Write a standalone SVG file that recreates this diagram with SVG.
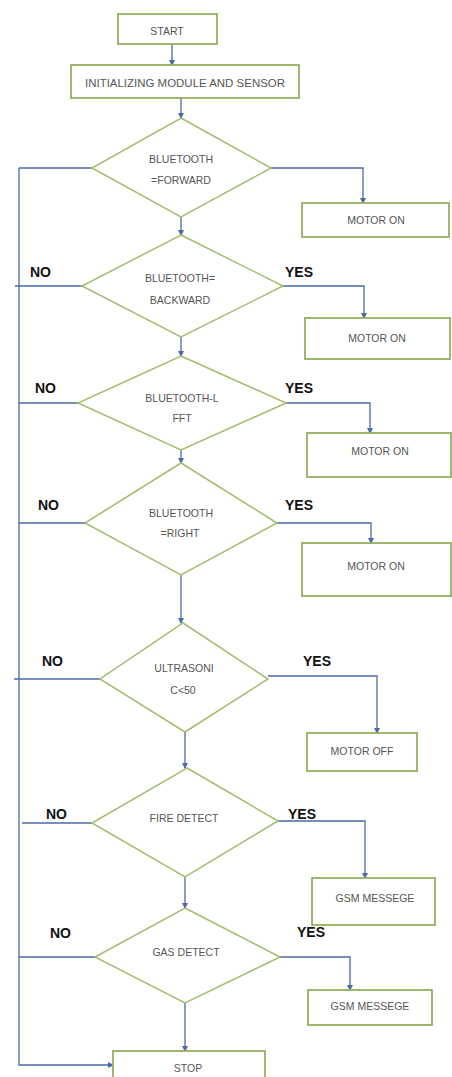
<svg xmlns="http://www.w3.org/2000/svg" width="452" height="1077" viewBox="0 0 452 1077">
<defs>
<marker id="ah" markerWidth="6" markerHeight="6" refX="5" refY="3" orient="auto" markerUnits="userSpaceOnUse">
<path d="M0,0 L6,3 L0,6 z" fill="#4a6aa8"/>
</marker>
<style>
.box{fill:#fff;stroke:#94b060;stroke-width:1.8}
.dia{fill:#fff;stroke:#a3bd6c;stroke-width:1.5}
.t{font-family:"Liberation Sans",Arial,sans-serif;font-size:10.5px;fill:#555;text-anchor:middle}
.lb{font-family:"Liberation Sans",Arial,sans-serif;font-size:14px;font-weight:bold;fill:#111}
.c{fill:none;stroke:#4a6aa8;stroke-width:1.3}
.ca{fill:none;stroke:#4a6aa8;stroke-width:1.3;marker-end:url(#ah)}
</style>
</defs>
<rect width="452" height="1077" fill="#fff"/>
<g id="connectors">
<path class="ca" d="M172,44 V65"/>
<path class="ca" d="M181,98 V118"/>
<path class="ca" d="M181,217 V235"/>
<path class="ca" d="M181,337 V356"/>
<path class="ca" d="M181,450 V463"/>
<path class="ca" d="M181,575 V623"/>
<path class="ca" d="M185,732 V768"/>
<path class="ca" d="M185,877 V908"/>
<path class="ca" d="M185,1003 V1051"/>
<path class="ca" d="M271,168 H363 V203"/>
<path class="ca" d="M283,286 H364 V318"/>
<path class="ca" d="M286,403 H370 V433"/>
<path class="ca" d="M277,523 H371 V543"/>
<path class="ca" d="M268,676 H377 V733"/>
<path class="ca" d="M278,821 H365 V878"/>
<path class="ca" d="M280,957 H350 V990"/>
<path class="c" d="M92,168 H19"/>
<path class="c" d="M82,286 H15"/>
<path class="c" d="M78,403 H19"/>
<path class="c" d="M85,523 H19"/>
<path class="c" d="M100,679 H14"/>
<path class="c" d="M92,823 H22"/>
<path class="c" d="M95,957 H19"/>
<path class="ca" d="M19,168 V1065 H113"/>
</g>
<g id="start"><rect class="box" x="118" y="14" width="99" height="30"/><text class="t" x="167" y="35">START</text></g>
<g id="init"><rect class="box" x="71" y="65" width="228" height="33"/><text class="t" x="185" y="87" textLength="200" lengthAdjust="spacingAndGlyphs">INITIALIZING MODULE AND SENSOR</text></g>
<g id="d1"><polygon class="dia" points="181,118 271,168 181,217 92,168"/><text class="t" x="181" y="163">BLUETOOTH</text><text class="t" x="181" y="184">=FORWARD</text></g>
<g id="m1"><rect class="box" x="302" y="203" width="147" height="34"/><text class="t" x="376" y="224">MOTOR ON</text></g>
<g id="d2"><polygon class="dia" points="181,235 283,286 181,337 82,286"/><text class="t" x="180" y="282">BLUETOOTH=</text><text class="t" x="180" y="304">BACKWARD</text><text class="lb" x="30" y="277">NO</text><text class="lb" x="285" y="277">YES</text></g>
<g id="m2"><rect class="box" x="305" y="318" width="145" height="41"/><text class="t" x="377" y="342">MOTOR ON</text></g>
<g id="d3"><polygon class="dia" points="181,356 286,403 181,450 78,403"/><text class="t" x="182" y="402">BLUETOOTH-L</text><text class="t" x="182" y="422">FFT</text><text class="lb" x="35" y="393">NO</text><text class="lb" x="285" y="393">YES</text></g>
<g id="m3"><rect class="box" x="307" y="433" width="144" height="44"/><text class="t" x="380" y="455">MOTOR ON</text></g>
<g id="d4"><polygon class="dia" points="181,463 277,523 181,575 85,523"/><text class="t" x="181" y="517">BLUETOOTH</text><text class="t" x="180" y="537">=RIGHT</text><text class="lb" x="38" y="510">NO</text><text class="lb" x="285" y="510">YES</text></g>
<g id="m4"><rect class="box" x="302" y="543" width="149" height="53"/><text class="t" x="376" y="570">MOTOR ON</text></g>
<g id="d5"><polygon class="dia" points="183,623 268,679 185,732 100,679"/><text class="t" x="184" y="672">ULTRASONI</text><text class="t" x="183" y="694">C&lt;50</text><text class="lb" x="42" y="666">NO</text><text class="lb" x="303" y="666">YES</text></g>
<g id="m5"><rect class="box" x="307" y="733" width="110" height="38"/><text class="t" x="362" y="755">MOTOR OFF</text></g>
<g id="d6"><polygon class="dia" points="187,768 278,821 185,877 92,823"/><text class="t" x="184" y="822">FIRE DETECT</text><text class="lb" x="46" y="819">NO</text><text class="lb" x="288" y="819">YES</text></g>
<g id="g1"><rect class="box" x="312" y="878" width="123" height="47"/><text class="t" x="375" y="902">GSM MESSEGE</text></g>
<g id="d7"><polygon class="dia" points="185,908 280,957 185,1003 95,957"/><text class="t" x="186" y="956">GAS DETECT</text><text class="lb" x="50" y="938">NO</text><text class="lb" x="297" y="937">YES</text></g>
<g id="g2"><rect class="box" x="308" y="990" width="124" height="35"/><text class="t" x="370" y="1010">GSM MESSEGE</text></g>
<g id="stop"><rect class="box" x="113" y="1051" width="152" height="28"/><text class="t" x="188" y="1072">STOP</text></g>
</svg>
